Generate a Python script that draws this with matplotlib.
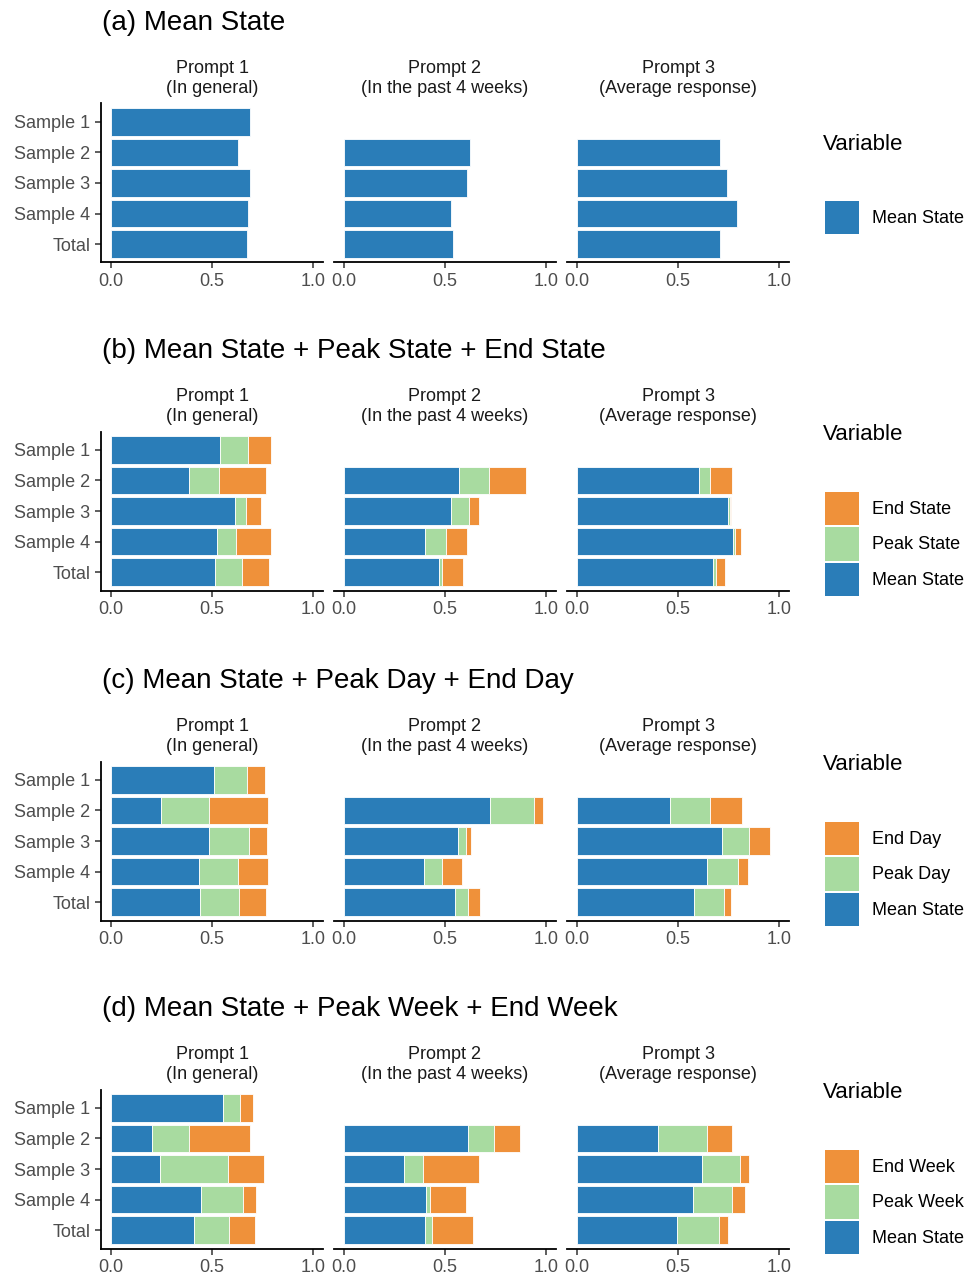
import numpy as np
import matplotlib
matplotlib.use("Agg")
import matplotlib.pyplot as plt
from matplotlib.patches import Patch

plt.rcParams['font.family'] = ['Liberation Sans', 'DejaVu Sans']

# ---- data ----
rows = ["Sample 1", "Sample 2", "Sample 3", "Sample 4", "Total"]
prompts = ["Prompt 1\n(In general)", "Prompt 2\n(In the past 4 weeks)", "Prompt 3\n(Average response)"]
nan = np.nan

# (a) mean state only, one list per prompt
a_mean = [[0.687, 0.629, 0.690, 0.679, 0.675],
          [nan, 0.623, 0.609, 0.528, 0.540],
          [nan, 0.708, 0.741, 0.791, 0.708]]

# (b) mean + peak state + end state (stacked pieces)
b_mean = [[0.541, 0.387, 0.616, 0.525, 0.513],
          [nan, 0.570, 0.528, 0.402, 0.472],
          [nan, 0.602, 0.750, 0.774, 0.673]]
b_peak = [[0.139, 0.148, 0.053, 0.094, 0.136],
          [nan, 0.149, 0.090, 0.103, 0.013],
          [nan, 0.058, 0.010, 0.009, 0.014]]
b_end = [[0.110, 0.233, 0.076, 0.172, 0.134],
         [nan, 0.183, 0.048, 0.103, 0.103],
         [nan, 0.108, 0.002, 0.031, 0.044]]

# (c) mean + peak day + end day
c_mean = [[0.508, 0.248, 0.483, 0.434, 0.442],
          [nan, 0.725, 0.563, 0.394, 0.548],
          [nan, 0.459, 0.720, 0.645, 0.577]]
c_peak = [[0.163, 0.235, 0.202, 0.193, 0.192],
          [nan, 0.217, 0.040, 0.093, 0.068],
          [nan, 0.201, 0.132, 0.153, 0.153]]
c_end = [[0.092, 0.293, 0.087, 0.149, 0.136],
         [nan, 0.043, 0.024, 0.097, 0.058],
         [nan, 0.156, 0.103, 0.048, 0.035]]

# (d) mean + peak week + end week
d_mean = [[0.553, 0.205, 0.243, 0.447, 0.411],
          [nan, 0.613, 0.295, 0.404, 0.399],
          [nan, 0.400, 0.620, 0.575, 0.494]]
d_peak = [[0.088, 0.181, 0.338, 0.205, 0.175],
          [nan, 0.132, 0.096, 0.020, 0.036],
          [nan, 0.243, 0.189, 0.193, 0.207]]
d_end = [[0.063, 0.301, 0.177, 0.067, 0.126],
         [nan, 0.126, 0.278, 0.182, 0.204],
         [nan, 0.126, 0.045, 0.066, 0.047]]

panels = [
    ("(a) Mean State", [a_mean], ["Mean State"]),
    ("(b) Mean State + Peak State + End State", [b_mean, b_peak, b_end], ["Mean State", "Peak State", "End State"]),
    ("(c) Mean State + Peak Day + End Day", [c_mean, c_peak, c_end], ["Mean State", "Peak Day", "End Day"]),
    ("(d) Mean State + Peak Week + End Week", [d_mean, d_peak, d_end], ["Mean State", "Peak Week", "End Week"]),
]

colors = ["#2A7DB8", "#A8DBA0", "#EF913A"]
TXT = "#4D4D4D"

# ---- layout in pixels ----
W, H = 968, 1274
fig = plt.figure(figsize=(W / 100, H / 100), dpi=100)

ax_left = [101, 334, 567]
ax_w = 222
ax_top = [103.5, 431.5, 761.5, 1089.5]
ax_h = 159
title_y = [23, 351, 681, 1009]

ypos = np.arange(len(rows))[::-1]   # Sample 1 at top

for p, (title, series, names) in enumerate(panels):
    fig.text(102 / W, 1 - title_y[p] / H, title, fontsize=20, ha='left', va='center')
    for k in range(3):
        ax = fig.add_axes([ax_left[k] / W, 1 - (ax_top[p] + ax_h) / H, ax_w / W, ax_h / H])
        left = np.zeros(len(rows))
        for s, vals in enumerate(series):
            v = np.array(vals[k], dtype=float)
            ok = ~np.isnan(v)
            ax.barh(ypos[ok], v[ok], left=left[ok], height=0.9, color=colors[s],
                    edgecolor='white', linewidth=0.6)
            left[ok] = left[ok] + v[ok]
        ax.set_xlim(-0.05, 1.05)
        ax.set_ylim(-0.6, len(rows) - 0.4)
        ax.set_xticks([0, 0.5, 1.0])
        ax.set_xticklabels(["0.0", "0.5", "1.0"])
        ax.set_yticks(ypos)
        ax.tick_params(axis='both', labelsize=13, labelcolor=TXT, length=4.5, width=1.1,
                       color='#333333', pad=3)
        for sp in ['top', 'right']:
            ax.spines[sp].set_visible(False)
        ax.spines['bottom'].set_linewidth(1.3)
        if k == 0:
            ax.set_yticklabels(rows)
            ax.spines['left'].set_linewidth(1.3)
        else:
            ax.spines['left'].set_visible(False)
            ax.tick_params(axis='y', left=False, labelleft=False)
        ax.annotate(prompts[k], xy=(0.5, 1), xycoords='axes fraction', xytext=(0, 25),
                    textcoords='offset pixels', ha='center', va='center', fontsize=13,
                    color='#1A1A1A', linespacing=1.28)

    # legend at right, centred on the panel
    n = len(names)
    mid = ax_top[p] + ax_h / 2
    ttl = mid - 41 - 18.5 * (n - 1)
    fig.text(823 / W, 1 - (ttl + 2) / H, "Variable", fontsize=16, ha='left', va='center')
    handles = [Patch(facecolor=colors[i], edgecolor='none') for i in range(n)][::-1]
    fig.legend(handles, names[::-1], loc='upper left',
               bbox_to_anchor=(825 / W, 1 - (ttl + 59) / H), frameon=False, fontsize=13,
               handlelength=1.9, handleheight=2.45, labelspacing=0.12, handletextpad=0.7,
               borderpad=0, borderaxespad=0)

fig.savefig("out.png", dpi=100, facecolor='white')
